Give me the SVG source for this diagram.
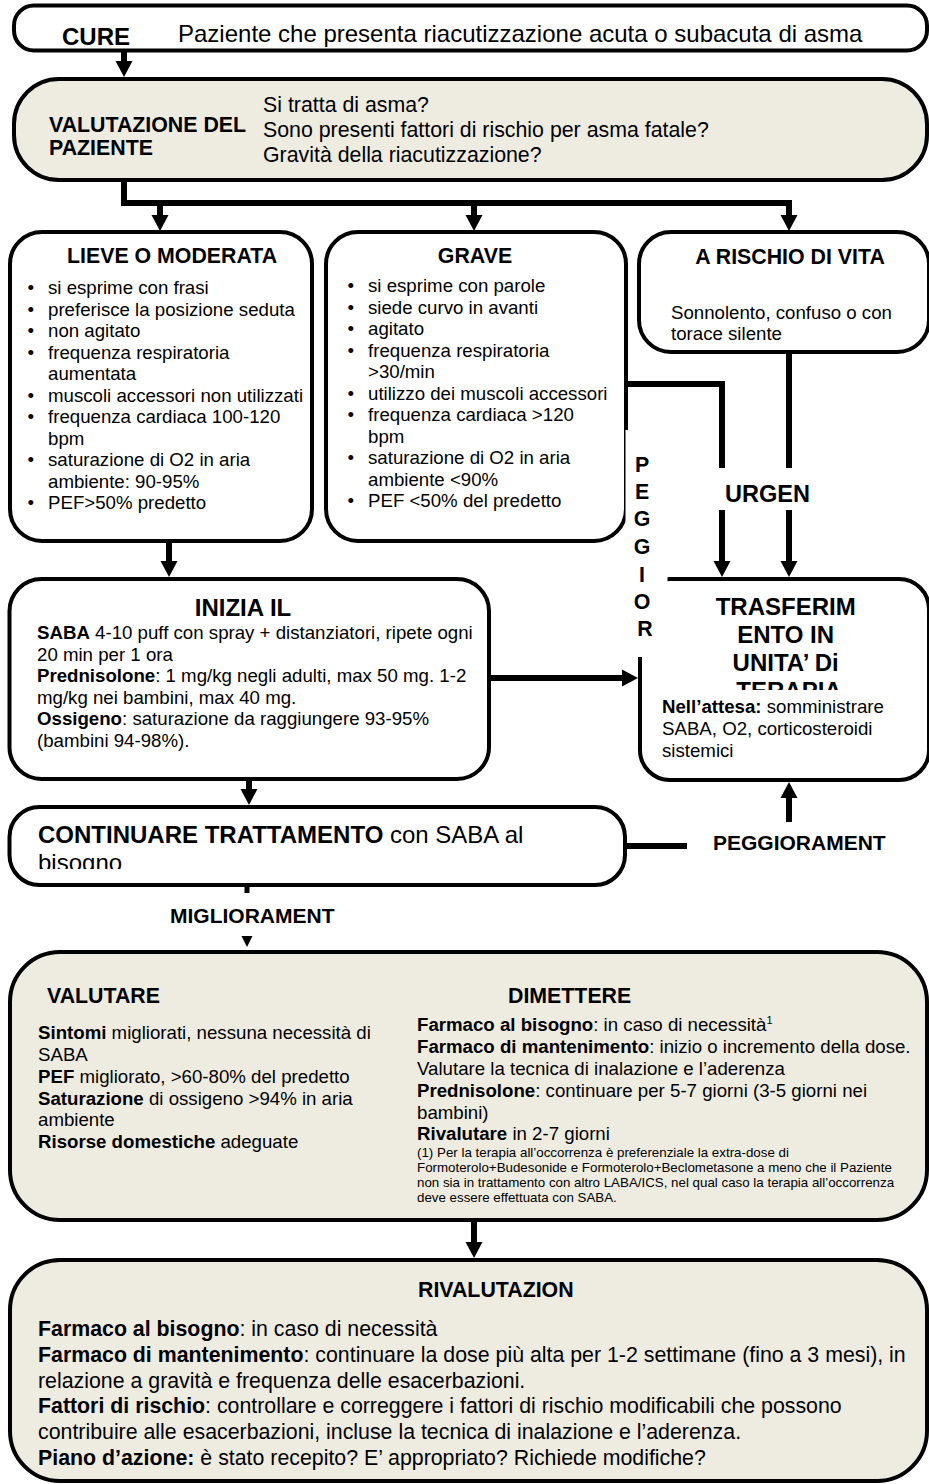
<svg xmlns="http://www.w3.org/2000/svg" width="929" height="1484" viewBox="0 0 929 1484">
  <style>
    text { font-family: 'Liberation Sans', Arial, Helvetica, sans-serif; fill: #000; }
    .box { fill: #fff; stroke: #000; stroke-width: 4; }
    .tan { fill: #EEECE1; stroke: #000; stroke-width: 4; }
    .con { fill: none; stroke: #000; stroke-width: 6; }
    .stub { fill: none; stroke: #000; stroke-width: 5; }
    .mask { fill: #fff; stroke: none; }
    .b { font-weight: bold; }
    .s10 { font-size: 13.33px; }
    .s14 { font-size: 18.67px; }
    .s16 { font-size: 21.33px; }
    .s18 { font-size: 24px; }
    .mid { text-anchor: middle; }
  </style>
  <defs>
    <marker id="arrow" markerUnits="userSpaceOnUse" markerWidth="16" markerHeight="18" viewBox="0 -9 16 18" refX="1" refY="0" orient="auto">
      <path d="M0,-8.5 L16,0 L0,8.5 Z" fill="#000"/>
    </marker>
    <marker id="arrowSmall" markerUnits="userSpaceOnUse" markerWidth="11" markerHeight="12" viewBox="0 -6 11 12" refX="0" refY="0" orient="auto">
      <path d="M0,-5.5 L11,0 L0,5.5 Z" fill="#000"/>
    </marker>
    <clipPath id="clipTransferTitle"><rect x="640" y="579" width="287" height="111"/></clipPath>
    <clipPath id="clipContinue"><rect x="9" y="807" width="616" height="62"/></clipPath>
  </defs>

  <!-- start -->
  <g id="node-cure">
    <rect class="box" x="14" y="5.5" width="913" height="45" rx="20"/>
    <text class="b s18" x="62" y="45">CURE</text>
    <text class="s18" x="178" y="42">Paziente che presenta riacutizzazione acuta o subacuta di asma</text>
  </g>

  <!-- assessment -->
  <g id="node-valutazione">
    <rect class="tan" x="14" y="79" width="913" height="101" rx="45"/>
    <text class="b s16">
      <tspan x="49" y="132">VALUTAZIONE DEL</tspan>
      <tspan x="49" y="155">PAZIENTE</tspan>
    </text>
    <text class="s16">
      <tspan x="263" y="112">Si tratta di asma?</tspan>
      <tspan x="263" y="137">Sono presenti fattori di rischio per asma fatale?</tspan>
      <tspan x="263" y="162">Gravità della riacutizzazione?</tspan>
    </text>
  </g>

  <!-- mild / moderate -->
  <g id="node-lieve">
    <rect class="box" x="10" y="232" width="302" height="309" rx="32"/>
    <text class="b s16" x="67" y="263">LIEVE O MODERATA</text>
    <text class="s14">
      <tspan x="27.5" y="294">•</tspan>
      <tspan x="27.5" y="315.5">•</tspan>
      <tspan x="27.5" y="337">•</tspan>
      <tspan x="27.5" y="358.5">•</tspan>
      <tspan x="27.5" y="401.5">•</tspan>
      <tspan x="27.5" y="423">•</tspan>
      <tspan x="27.5" y="466">•</tspan>
      <tspan x="27.5" y="509">•</tspan>
    </text>
    <text class="s14">
      <tspan x="48" y="294">si esprime con frasi</tspan>
      <tspan x="48" y="315.5">preferisce la posizione seduta</tspan>
      <tspan x="48" y="337">non agitato</tspan>
      <tspan x="48" y="358.5">frequenza respiratoria</tspan>
      <tspan x="48" y="380">aumentata</tspan>
      <tspan x="48" y="401.5">muscoli accessori non utilizzati</tspan>
      <tspan x="48" y="423">frequenza cardiaca 100-120</tspan>
      <tspan x="48" y="444.5">bpm</tspan>
      <tspan x="48" y="466">saturazione di O2 in aria</tspan>
      <tspan x="48" y="487.5">ambiente: 90-95%</tspan>
      <tspan x="48" y="509">PEF&gt;50% predetto</tspan>
    </text>
  </g>

  <!-- severe -->
  <g id="node-grave">
    <rect class="box" x="326" y="232" width="300" height="309" rx="32"/>
    <text class="b s16 mid" x="475" y="263">GRAVE</text>
    <text class="s14">
      <tspan x="347.5" y="292">•</tspan>
      <tspan x="347.5" y="313.5">•</tspan>
      <tspan x="347.5" y="335">•</tspan>
      <tspan x="347.5" y="356.5">•</tspan>
      <tspan x="347.5" y="399.5">•</tspan>
      <tspan x="347.5" y="421">•</tspan>
      <tspan x="347.5" y="464">•</tspan>
      <tspan x="347.5" y="507">•</tspan>
    </text>
    <text class="s14">
      <tspan x="368" y="292">si esprime con parole</tspan>
      <tspan x="368" y="313.5">siede curvo in avanti</tspan>
      <tspan x="368" y="335">agitato</tspan>
      <tspan x="368" y="356.5">frequenza respiratoria</tspan>
      <tspan x="368" y="378">&gt;30/min</tspan>
      <tspan x="368" y="399.5">utilizzo dei muscoli accessori</tspan>
      <tspan x="368" y="421">frequenza cardiaca &gt;120</tspan>
      <tspan x="368" y="442.5">bpm</tspan>
      <tspan x="368" y="464">saturazione di O2 in aria</tspan>
      <tspan x="368" y="485.5">ambiente &lt;90%</tspan>
      <tspan x="368" y="507">PEF &lt;50% del predetto</tspan>
    </text>
  </g>

  <!-- life threatening -->
  <g id="node-rischio-vita">
    <rect class="box" x="639" y="232" width="290" height="120" rx="32"/>
    <text class="b s16 mid" x="790" y="264">A RISCHIO DI VITA</text>
    <text class="s14">
      <tspan x="671" y="319">Sonnolento, confuso o con</tspan>
      <tspan x="671" y="340">torace silente</tspan>
    </text>
  </g>

  <!-- start treatment -->
  <g id="node-inizia">
    <rect class="box" x="9.5" y="579" width="479.5" height="200" rx="32"/>
    <text class="b s18 mid" x="243" y="616">INIZIA IL</text>
    <text class="s14">
      <tspan x="37" y="639"><tspan class="b">SABA</tspan> 4-10 puff con spray + distanziatori, ripete ogni</tspan>
      <tspan x="37" y="660.5">20 min per 1 ora</tspan>
      <tspan x="37" y="682"><tspan class="b">Prednisolone</tspan>: 1 mg/kg negli adulti, max 50 mg. 1-2</tspan>
      <tspan x="37" y="703.5">mg/kg nei bambini, max 40 mg.</tspan>
      <tspan x="37" y="725"><tspan class="b">Ossigeno</tspan>: saturazione da raggiungere 93-95%</tspan>
      <tspan x="37" y="746.5">(bambini 94-98%).</tspan>
    </text>
  </g>

  <!-- transfer to intensive care -->
  <g id="node-trasferimento">
    <rect class="box" x="640" y="579" width="289" height="201" rx="30"/>
    <text class="b s18 mid" clip-path="url(#clipTransferTitle)">
      <tspan x="789" y="615">TRASFERIM</tspan>
      <tspan x="789" y="643">ENTO IN</tspan>
      <tspan x="789" y="671">UNITA’ Di</tspan>
      <tspan x="789" y="699">TERAPIA</tspan>
    </text>
    <text class="s14">
      <tspan x="662" y="713"><tspan class="b">Nell’attesa:</tspan> somministrare</tspan>
      <tspan x="662" y="735">SABA, O2, corticosteroidi</tspan>
      <tspan x="662" y="757">sistemici</tspan>
    </text>
  </g>

  <!-- continue treatment -->
  <g id="node-continuare">
    <rect class="box" x="9.5" y="807" width="615.5" height="78" rx="30"/>
    <text class="s18" clip-path="url(#clipContinue)">
      <tspan x="38" y="843"><tspan class="b">CONTINUARE TRATTAMENTO</tspan> con SABA al</tspan>
      <tspan x="38" y="870.6">bisogno</tspan>
    </text>
  </g>

  <!-- assess / discharge -->
  <g id="node-valutare-dimettere">
    <rect class="tan" x="10" y="952" width="917" height="268" rx="50"/>
    <text class="b s16" x="47" y="1003">VALUTARE</text>
    <text class="s14">
      <tspan x="38" y="1039"><tspan class="b">Sintomi</tspan> migliorati, nessuna necessità di</tspan>
      <tspan x="38" y="1061">SABA</tspan>
      <tspan x="38" y="1083"><tspan class="b">PEF</tspan> migliorato, &gt;60-80% del predetto</tspan>
      <tspan x="38" y="1104.5"><tspan class="b">Saturazione</tspan> di ossigeno &gt;94% in aria</tspan>
      <tspan x="38" y="1126">ambiente</tspan>
      <tspan x="38" y="1147.5"><tspan class="b">Risorse domestiche</tspan> adeguate</tspan>
    </text>
    <text class="b s16" x="508" y="1003">DIMETTERE</text>
    <text class="s14">
      <tspan x="417" y="1031"><tspan class="b">Farmaco al bisogno</tspan>: in caso di necessità<tspan font-size="11" dy="-7">1</tspan></tspan>
      <tspan x="417" y="1053"><tspan class="b">Farmaco di mantenimento</tspan>: inizio o incremento della dose.</tspan>
      <tspan x="417" y="1075">Valutare la tecnica di inalazione e l’aderenza</tspan>
      <tspan x="417" y="1097"><tspan class="b">Prednisolone</tspan>: continuare per 5-7 giorni (3-5 giorni nei</tspan>
      <tspan x="417" y="1119">bambini)</tspan>
      <tspan x="417" y="1140"><tspan class="b">Rivalutare</tspan> in 2-7 giorni</tspan>
    </text>
    <text class="s10">
      <tspan x="417" y="1157">(1) Per la terapia all’occorrenza è preferenziale la extra-dose di</tspan>
      <tspan x="417" y="1172">Formoterolo+Budesonide e Formoterolo+Beclometasone a meno che il Paziente</tspan>
      <tspan x="417" y="1187">non sia in trattamento con altro LABA/ICS, nel qual caso la terapia all’occorrenza</tspan>
      <tspan x="417" y="1202">deve essere effettuata con SABA.</tspan>
    </text>
  </g>

  <!-- follow-up -->
  <g id="node-rivalutazione">
    <rect class="tan" x="10" y="1260" width="917" height="221" rx="50"/>
    <text class="b s16" x="418" y="1297">RIVALUTAZION</text>
    <text class="s16">
      <tspan x="38" y="1336"><tspan class="b">Farmaco al bisogno</tspan>: in caso di necessità</tspan>
      <tspan x="38" y="1362"><tspan class="b">Farmaco di mantenimento</tspan>: continuare la dose più alta per 1-2 settimane (fino a 3 mesi), in</tspan>
      <tspan x="38" y="1388">relazione a gravità e frequenza delle esacerbazioni.</tspan>
      <tspan x="38" y="1413"><tspan class="b">Fattori di rischio</tspan>: controllare e correggere i fattori di rischio modificabili che possono</tspan>
      <tspan x="38" y="1439">contribuire alle esacerbazioni, incluse la tecnica di inalazione e l’aderenza.</tspan>
      <tspan x="38" y="1465"><tspan class="b">Piano d’azione:</tspan> è stato recepito? E’ appropriato? Richiede modifiche?</tspan>
    </text>
  </g>

  <!-- connectors -->
  <g id="connectors">
    <path class="con" d="M124,51 V62" marker-end="url(#arrow)"/>
    <path class="con" d="M124,181 V203 H789 V216" marker-end="url(#arrow)"/>
    <path class="con" d="M160,203 V216" marker-end="url(#arrow)"/>
    <path class="con" d="M474,203 V216" marker-end="url(#arrow)"/>
    <path class="con" d="M169,542 V562" marker-end="url(#arrow)"/>
    <path class="con" d="M626,384 H722 V562" marker-end="url(#arrow)"/>
    <path class="con" d="M789,352 V562" marker-end="url(#arrow)"/>
    <path class="con" d="M489,678 H623" marker-end="url(#arrow)"/>
    <path class="con" d="M249,780 V790" marker-end="url(#arrow)"/>
    <path class="con" d="M625,846 H789 V797" marker-end="url(#arrow)"/>
    <path class="stub" d="M247,886 V936" marker-end="url(#arrowSmall)"/>
    <path class="con" d="M474,1221 V1243" marker-end="url(#arrow)"/>
  </g>

  <!-- connector labels -->
  <g id="label-peggior">
    <rect class="mask" x="625.5" y="430" width="42" height="227"/>
    <text class="b s16 mid">
      <tspan x="645" y="472">P</tspan>
      <tspan x="645" y="499">E</tspan>
      <tspan x="645" y="526">G</tspan>
      <tspan x="645" y="554">G</tspan>
      <tspan x="645" y="582">I</tspan>
      <tspan x="645" y="609">O</tspan>
      <tspan x="645" y="636">R</tspan>
    </text>
  </g>
  <g id="label-urgen">
    <rect class="mask" x="700" y="468" width="200" height="42"/>
    <text class="b" font-size="23.5" x="725" y="502">URGEN</text>
  </g>
  <g id="label-peggioramento">
    <rect class="mask" x="687" y="822" width="230" height="42"/>
    <text class="b" font-size="21" x="713" y="850">PEGGIORAMENT</text>
  </g>
  <g id="label-miglioramento">
    <rect class="mask" x="150" y="893" width="205" height="43"/>
    <text class="b" font-size="21" x="170" y="923">MIGLIORAMENT</text>
  </g>
</svg>
